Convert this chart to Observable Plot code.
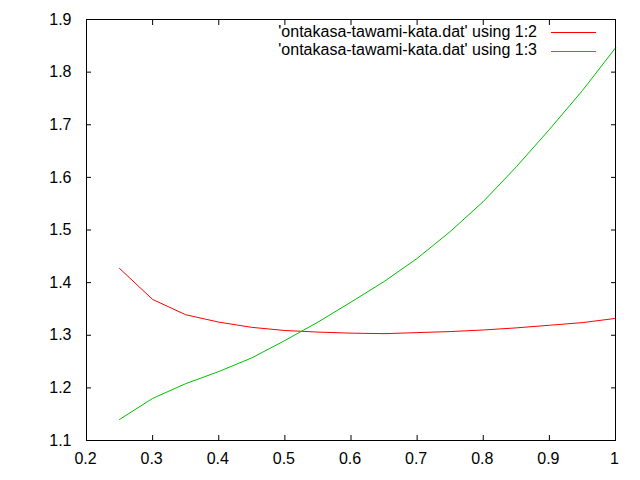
<!DOCTYPE html>
<html>
<head>
<meta charset="utf-8">
<script src="https://cdn.jsdelivr.net/npm/d3@7"></script>
<script src="https://cdn.jsdelivr.net/npm/@observablehq/plot@0.6"></script>
<style>
  html, body { margin: 0; padding: 0; background: #fff; }
  #wrap { position: relative; width: 640px; height: 480px; }
  .lbl { position: absolute; font-family: "Liberation Sans", Arial, sans-serif; font-size: 16px; line-height: 18px; color: #000; white-space: nowrap; text-align: right; }
  .key { position: absolute; height: 1px; }
</style>
</head>
<body>
<div id="wrap"></div>
<script>
const xs = [0.25, 0.30, 0.35, 0.40, 0.45, 0.50, 0.55, 0.60, 0.65, 0.70, 0.75, 0.80, 0.85, 0.90, 0.95, 1.00];
const col2 = [1.427, 1.368, 1.339, 1.325, 1.315, 1.309, 1.306, 1.304, 1.303, 1.305, 1.307, 1.310, 1.314, 1.319, 1.324, 1.332];
const col3 = [1.140, 1.180, 1.208, 1.231, 1.257, 1.290, 1.325, 1.363, 1.402, 1.446, 1.497, 1.554, 1.620, 1.691, 1.765, 1.846];
const seriesNames = ["'ontakasa-tawami-kata.dat' using 1:2", "'ontakasa-tawami-kata.dat' using 1:3"];
const seriesColors = ["#ff0000", "#00c000"];
const xTicks = [0.2, 0.3, 0.4, 0.5, 0.6, 0.7, 0.8, 0.9, 1];
const yTicks = [1.1, 1.2, 1.3, 1.4, 1.5, 1.6, 1.7, 1.8, 1.9];

const data = [];
xs.forEach((x, i) => {
  data.push({x, y: col2[i], s: seriesNames[0]});
  data.push({x, y: col3[i], s: seriesNames[1]});
});

const fmt = d => d3.format("")(d);

const chart = Plot.plot({
  width: 640,
  height: 480,
  marginLeft: 86,
  marginRight: 25,
  marginTop: 19,
  marginBottom: 40,
  style: { fontFamily: "'Liberation Sans', Arial, sans-serif", fontSize: "16px", background: "#fff", color: "#000" },
  x: { domain: [0.2, 1], ticks: xTicks },
  y: { domain: [1.1, 1.9], ticks: yTicks },
  color: { domain: seriesNames, range: seriesColors },
  marks: [
    Plot.axisX({ticks: xTicks, anchor: "bottom", tickSize: 0, tickPadding: 12, tickFormat: fmt, label: null, dx: -1}),
    Plot.axisY({ticks: yTicks, anchor: "left", tickSize: 0, tickPadding: 15, tickFormat: fmt, label: null}),
    Plot.axisX({ticks: xTicks, anchor: "bottom", tickSize: -5, text: null, label: null}),
    Plot.axisX({ticks: xTicks, anchor: "top", tickSize: -5, text: null, label: null}),
    Plot.axisY({ticks: yTicks, anchor: "left", tickSize: -5, text: null, label: null}),
    Plot.axisY({ticks: yTicks, anchor: "right", tickSize: -5, text: null, label: null}),
    Plot.line(data, {x: "x", y: "y", z: "s", stroke: "s", strokeWidth: 1}),
    Plot.frame({stroke: "#000", strokeWidth: 1})
  ]
});
const wrap = document.getElementById("wrap");
wrap.appendChild(chart);

seriesNames.forEach((name, i) => {
  const lbl = document.createElement("div");
  lbl.className = "lbl";
  lbl.textContent = name;
  lbl.style.right = "103px";
  lbl.style.top = (22.5 + i * 18) + "px";
  wrap.appendChild(lbl);
  const key = document.createElement("div");
  key.className = "key";
  key.style.left = "551px";
  key.style.width = "45px";
  key.style.top = (32 + i * 18.5) + "px";
  key.style.background = seriesColors[i];
  wrap.appendChild(key);
});
</script>
</body>
</html>
